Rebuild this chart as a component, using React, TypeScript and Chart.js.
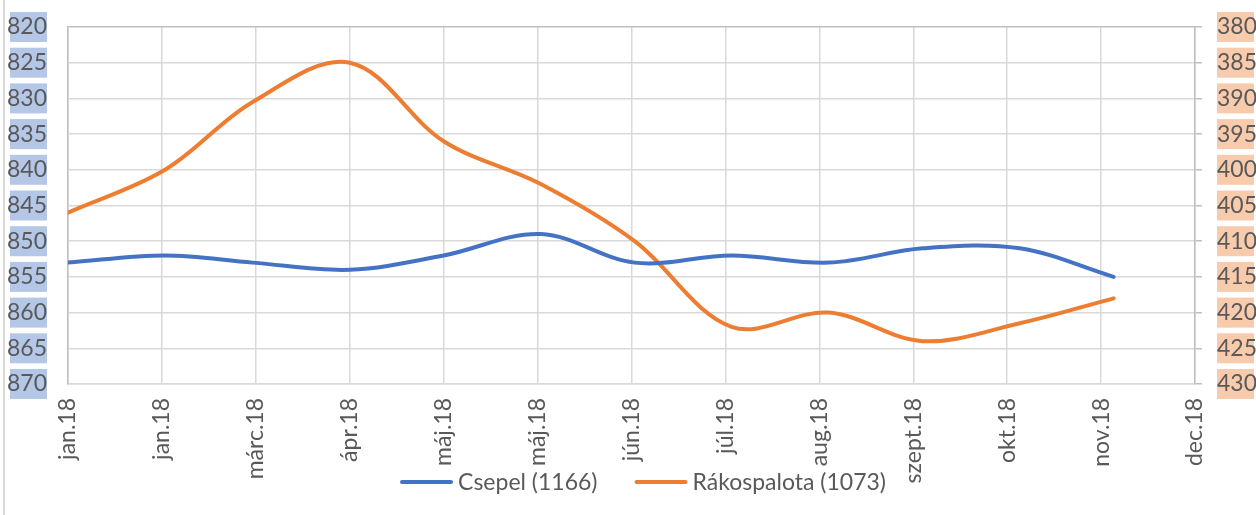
import React, { useEffect, useRef } from "react";
import { Chart, registerables } from "chart.js";

Chart.register(...registerables);

// Day offsets from 2018-01-01 of each data point (first day of each month)
const pointDays = [0, 31, 59, 90, 120, 151, 181, 212, 243, 273, 304, 334];
// Axis tick labels (every 30 days from 2018-01-01)
const tickLabels = [
  "jan.18", "jan.18", "márc.18", "ápr.18", "máj.18", "máj.18", "jún.18",
  "júl.18", "aug.18", "szept.18", "okt.18", "nov.18", "dec.18",
];
const tickDays = [0, 30, 60, 90, 120, 150, 180, 210, 240, 270, 300, 330, 360];

const seriesNames = ["Csepel (1166)", "Rákospalota (1073)"];
const csepel = [853, 852, 853, 854, 852, 849, 853, 852, 853, 851, 851, 855];
const rakospalota = [406, 400, 390.5, 385, 396, 402, 410, 422, 420, 424, 421.5, 418];

const leftTicks = [820, 825, 830, 835, 840, 845, 850, 855, 860, 865, 870];
const rightTicks = [380, 385, 390, 395, 400, 405, 410, 415, 420, 425, 430];

const FONT = "Lato, 'Open Sans', sans-serif";
const FS = 23;
const TEXT = "#595959";
const GRID = "#D9D9D9";
const AXIS = "#BFBFBF";
const BLUE = "#4472C4";
const ORANGE = "#ED7D31";

const zeroPad = (s: any) => {
  s.paddingTop = 0;
  s.paddingBottom = 0;
  s.paddingLeft = 0;
  s.paddingRight = 0;
};

export default function App() {
  const ref = useRef<HTMLCanvasElement>(null);

  useEffect(() => {
    if (!ref.current) return;

    const bgPlugin = {
      id: "labelBoxes",
      beforeDraw(chart: any) {
        const ctx = chart.ctx;
        ctx.save();
        ctx.fillStyle = GRID;
        ctx.fillRect(3, 0, 2, chart.height);
        const yl = chart.scales.yL;
        const yr = chart.scales.yR;
        ctx.fillStyle = "#B4C7E7";
        leftTicks.forEach((v) => {
          const p = yl.getPixelForValue(v);
          ctx.fillRect(10, p - 15, 37, 30);
        });
        ctx.fillStyle = "#F8CBAD";
        rightTicks.forEach((v) => {
          const p = yr.getPixelForValue(v);
          ctx.fillRect(1217, p - 15, 37, 30);
        });
        ctx.restore();
      },
      afterDraw(chart: any) {
        const ctx = chart.ctx;
        ctx.save();
        ctx.font = `${FS}px ${FONT}`;
        ctx.textBaseline = "middle";
        const colors = [BLUE, ORANGE];
        const boxW = 53;
        const gap = 5;
        const itemGap = 37;
        const widths = seriesNames.map((n) => ctx.measureText(n).width);
        const total = widths.reduce((a, w) => a + boxW + gap + w, 0) + itemGap;
        let x = 643 - total / 2;
        const y = 482;
        seriesNames.forEach((n, i) => {
          ctx.strokeStyle = colors[i];
          ctx.lineWidth = 4;
          ctx.lineCap = "round";
          ctx.beginPath();
          ctx.moveTo(x + 2, y);
          ctx.lineTo(x + boxW - 2, y);
          ctx.stroke();
          ctx.fillStyle = TEXT;
          ctx.fillText(n, x + boxW + gap, y + 1);
          x += boxW + gap + widths[i] + itemGap;
        });
        ctx.restore();
      },
    };

    const chart = new Chart(ref.current, {
      type: "line",
      data: {
        datasets: [
          {
            label: seriesNames[0],
            data: pointDays.map((d, i) => ({ x: d, y: csepel[i] })),
            borderColor: BLUE,
            backgroundColor: BLUE,
            borderWidth: 4,
            pointRadius: 0,
            tension: 0.35,
            yAxisID: "yL",
            borderCapStyle: "round",
          },
          {
            label: seriesNames[1],
            data: pointDays.map((d, i) => ({ x: d, y: rakospalota[i] })),
            borderColor: ORANGE,
            backgroundColor: ORANGE,
            borderWidth: 4,
            pointRadius: 0,
            tension: 0.35,
            yAxisID: "yR",
            borderCapStyle: "round",
          },
        ],
      },
      options: {
        animation: false,
        responsive: false,
        maintainAspectRatio: false,
        layout: { padding: { top: 27, left: 0, right: 0, bottom: 0 } },
        plugins: {
          legend: { display: false },
          tooltip: { enabled: false },
        },
        scales: {
          x: {
            type: "linear",
            position: "bottom",
            min: 0,
            max: 360,
            afterBuildTicks: (s: any) => {
              s.ticks = tickDays.map((v) => ({ value: v }));
            },
            afterFit: (s: any) => {
              s.height = 131;
              zeroPad(s);
            },
            ticks: {
              minRotation: 90,
              maxRotation: 90,
              autoSkip: false,
              padding: 14,
              color: TEXT,
              font: { family: FONT, size: FS },
              callback: (_v: any, i: number) => tickLabels[i],
            },
            grid: { color: GRID, lineWidth: 1.5, drawTicks: false },
            border: { color: GRID, width: 1.5 },
          },
          yL: {
            type: "linear",
            position: "left",
            reverse: true,
            min: 820,
            max: 870,
            afterBuildTicks: (s: any) => {
              s.ticks = leftTicks.map((v) => ({ value: v }));
            },
            afterFit: (s: any) => {
              s.width = 68;
              zeroPad(s);
            },
            ticks: {
              padding: 21,
              crossAlign: "near",
              color: TEXT,
              font: { family: FONT, size: FS },
            },
            grid: {
              color: (c: any) => (c.index === 0 ? AXIS : GRID),
              lineWidth: 1.5,
              drawTicks: false,
            },
            border: { color: AXIS, width: 1.5 },
          },
          yR: {
            type: "linear",
            position: "right",
            reverse: true,
            min: 380,
            max: 430,
            afterBuildTicks: (s: any) => {
              s.ticks = rightTicks.map((v) => ({ value: v }));
            },
            afterFit: (s: any) => {
              s.width = 61;
              zeroPad(s);
            },
            ticks: {
              padding: 15,
              color: TEXT,
              font: { family: FONT, size: FS },
            },
            grid: {
              drawOnChartArea: false,
              drawTicks: true,
              tickLength: 7,
              color: AXIS,
              lineWidth: 1.5,
            },
            border: { color: AXIS, width: 1.5 },
          },
        },
      },
      plugins: [bgPlugin],
    } as any);

    return () => chart.destroy();
  }, []);

  return (
    <div style={{ position: "absolute", left: 0, top: 0, width: 1256, height: 515, background: "#fff" }}>
      <canvas ref={ref} width={1256} height={515} style={{ display: "block" }} />
    </div>
  );
}
